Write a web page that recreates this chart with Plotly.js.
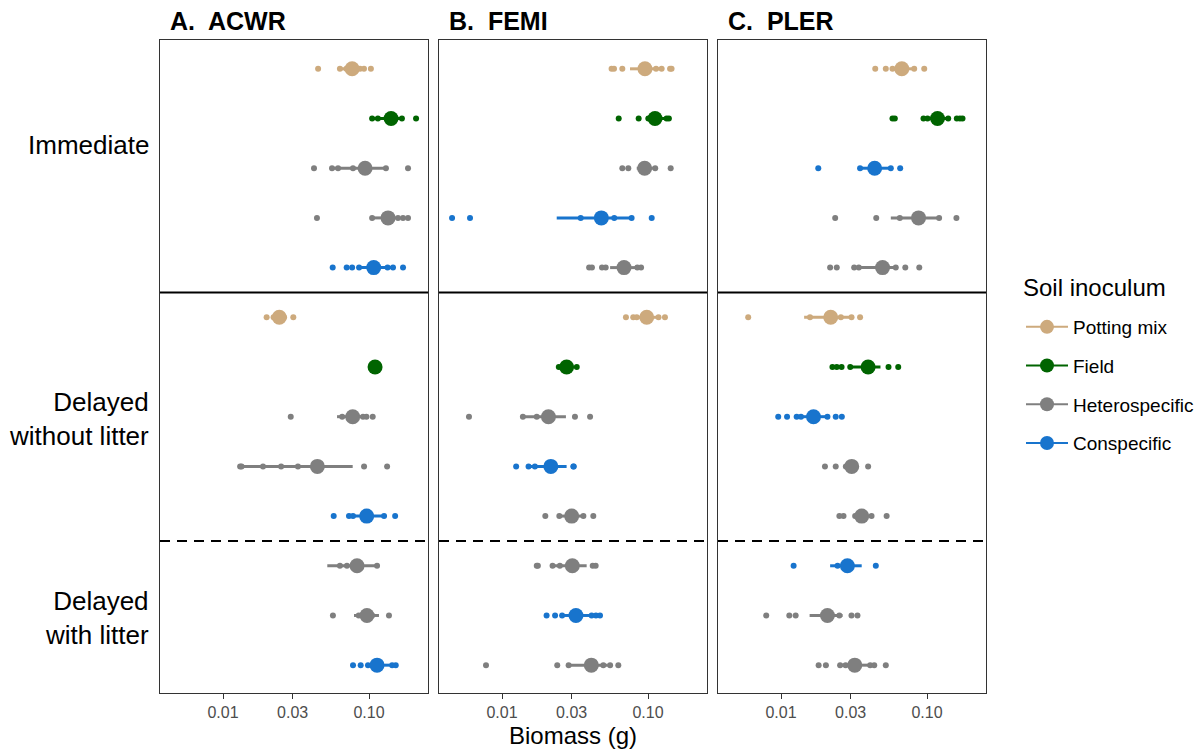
<!DOCTYPE html>
<html>
<head>
<meta charset="utf-8">
<script src="https://cdn.plot.ly/plotly-3.0.1.min.js"></script>
<style>html,body{margin:0;padding:0;background:#fff;}</style>
</head>
<body>
<div id="chart" style="width:1202px;height:755px;"></div>
<script>
// ---------- data ----------
const panels = ['A.\u00A0 ACWR', 'B.\u00A0 FEMI', 'C.\u00A0 PLER'];
const rows = [1,2,3,4,5,6,7,8,9,10,11,12,13];
const groupLabels = ['Immediate', 'Delayed<br>without litter', 'Delayed<br>with litter'];
const legendTitle = 'Soil inoculum';
const inocula = ['Potting mix', 'Field', 'Heterospecific', 'Conspecific'];
const inocColors = ['#CDAA7D', '#006400', '#7F7F7F', '#1874CD'];
const tickVals = [0.01, 0.03, 0.1];
const tickLabels = ['0.01', '0.03', '0.10'];

const ACWR_soil = ['Potting mix','Field','Heterospecific','Heterospecific','Conspecific','Potting mix','Field','Heterospecific','Heterospecific','Conspecific','Heterospecific','Heterospecific','Conspecific'];
const FEMI_soil = ['Potting mix','Field','Heterospecific','Conspecific','Heterospecific','Potting mix','Field','Heterospecific','Conspecific','Heterospecific','Heterospecific','Conspecific','Heterospecific'];
const PLER_soil = ['Potting mix','Field','Conspecific','Heterospecific','Heterospecific','Potting mix','Field','Conspecific','Heterospecific','Heterospecific','Conspecific','Heterospecific','Heterospecific'];

const ACWR_mean = [0.0766, 0.1416, 0.094, 0.135, 0.1077, 0.0243, 0.110, 0.0773, 0.0443, 0.0964, 0.0828, 0.0968, 0.1135];
const ACWR_lo   = [0.063, 0.108, 0.0558, 0.105, 0.085, 0.0215, 0.104, 0.0604, 0.0131, 0.072, 0.0518, 0.0789, 0.098];
const ACWR_hi   = [0.092, 0.165, 0.1306, 0.16, 0.145, 0.027, 0.116, 0.0968, 0.0773, 0.127, 0.116, 0.117, 0.139];
const ACWR_pts = [
  [0.0448, 0.0632, 0.070, 0.0868, 0.0924, 0.103],
  [0.105, 0.115, 0.135, 0.15, 0.168, 0.210],
  [0.042, 0.0558, 0.0614, 0.0777, 0.1306, 0.185],
  [0.044, 0.105, 0.128, 0.158, 0.171, 0.185],
  [0.0564, 0.0703, 0.0766, 0.0855, 0.134, 0.146, 0.171],
  [0.0199, 0.0222, 0.0262, 0.0303],
  [0.106, 0.110, 0.114],
  [0.0291, 0.0655, 0.091, 0.096, 0.106],
  [0.0131, 0.0134, 0.0188, 0.0250, 0.0326, 0.0925, 0.133],
  [0.0573, 0.0729, 0.0777, 0.1268, 0.151],
  [0.0632, 0.0706, 0.1135],
  [0.0566, 0.085, 0.105, 0.137],
  [0.0777, 0.0877, 0.0984, 0.144, 0.1524]
];

const FEMI_mean = [0.0953, 0.1117, 0.0948, 0.0479, 0.0685, 0.098, 0.0277, 0.0208, 0.0216, 0.030, 0.0303, 0.0321, 0.0409];
const FEMI_lo   = [0.0753, 0.098, 0.0837, 0.0237, 0.055, 0.0837, 0.025, 0.0139, 0.0152, 0.0244, 0.0222, 0.0258, 0.0286];
const FEMI_hi   = [0.12, 0.137, 0.108, 0.0772, 0.0845, 0.114, 0.031, 0.0274, 0.0277, 0.0361, 0.038, 0.0411, 0.053];
const FEMI_pts = [
  [0.0563, 0.0585, 0.0667, 0.1135, 0.124, 0.1416, 0.145],
  [0.0630, 0.0863, 0.1005, 0.134, 0.139],
  [0.0667, 0.0733, 0.112, 0.143],
  [0.00455, 0.00604, 0.0346, 0.0587, 0.0772, 0.106],
  [0.0395, 0.0413, 0.0484, 0.0513, 0.0845, 0.0896],
  [0.0706, 0.0792, 0.0837, 0.118, 0.1306],
  [0.0245, 0.0265, 0.029, 0.0325],
  [0.00594, 0.0139, 0.0173, 0.0316, 0.0401],
  [0.0125, 0.0152, 0.0168, 0.0308, 0.031],
  [0.0198, 0.0247, 0.0361, 0.0422],
  [0.0173, 0.0176, 0.0222, 0.0249, 0.0418, 0.0438],
  [0.0202, 0.0231, 0.0258, 0.0411, 0.044, 0.0469],
  [0.00777, 0.0239, 0.0286, 0.0494, 0.055, 0.0626]
];

const PLER_mean = [0.0672, 0.118, 0.0438, 0.0875, 0.0496, 0.0219, 0.0395, 0.0167, 0.0305, 0.0357, 0.0285, 0.0208, 0.032];
const PLER_lo   = [0.058, 0.0946, 0.0348, 0.0565, 0.0317, 0.0144, 0.0298, 0.0137, 0.0278, 0.0322, 0.0217, 0.0157, 0.0254];
const PLER_hi   = [0.0817, 0.1397, 0.0565, 0.121, 0.0611, 0.030, 0.048, 0.0208, 0.0334, 0.0417, 0.0357, 0.0264, 0.0408];
const PLER_pts = [
  [0.0442, 0.0522, 0.058, 0.0817, 0.0957],
  [0.058, 0.0602, 0.0946, 0.1008, 0.1397, 0.160, 0.168, 0.175],
  [0.0180, 0.0348, 0.0565, 0.0655],
  [0.0235, 0.0449, 0.0651, 0.121, 0.159],
  [0.0217, 0.0241, 0.0317, 0.0341, 0.0611, 0.071, 0.0885],
  [0.00596, 0.0158, 0.0257, 0.0304, 0.0348],
  [0.0225, 0.0241, 0.0260, 0.0298, 0.0545, 0.0635],
  [0.00957, 0.011, 0.0128, 0.0137, 0.0208, 0.0237, 0.0261],
  [0.020, 0.0237, 0.0278, 0.0395],
  [0.0251, 0.0268, 0.0322, 0.0417, 0.0529],
  [0.0122, 0.0244, 0.0446],
  [0.00792, 0.0114, 0.0126, 0.0251, 0.0304, 0.0334],
  [0.0181, 0.0203, 0.0254, 0.0277, 0.0408, 0.0435, 0.0522]
];

// ---------- build ----------
const panelData = [
  {soil: ACWR_soil, mean: ACWR_mean, lo: ACWR_lo, hi: ACWR_hi, pts: ACWR_pts},
  {soil: FEMI_soil, mean: FEMI_mean, lo: FEMI_lo, hi: FEMI_hi, pts: FEMI_pts},
  {soil: PLER_soil, mean: PLER_mean, lo: PLER_lo, hi: PLER_hi, pts: PLER_pts}
];
const xa = ['x', 'x2', 'x3'];
const ya = ['y', 'y2', 'y3'];
const traces = [];
const FONT = 'Liberation Sans, Arial, Helvetica, sans-serif';

panelData.forEach((pd, p) => {
  inocula.forEach((inoc, k) => {
    const cx = [], cy = [], px = [], py = [], mx = [], my = [];
    rows.forEach((r, i) => {
      if (pd.soil[i] !== inoc) return;
      cx.push(pd.lo[i], pd.hi[i], null); cy.push(r, r, null);
      pd.pts[i].forEach(v => { px.push(v); py.push(r); });
      mx.push(pd.mean[i]); my.push(r);
    });
    if (!mx.length) return;
    traces.push({type:'scatter', mode:'lines', x:cx, y:cy, xaxis:xa[p], yaxis:ya[p],
      line:{color:inocColors[k], width:3}, showlegend:false, hoverinfo:'skip'});
    traces.push({type:'scatter', mode:'markers', x:px, y:py, xaxis:xa[p], yaxis:ya[p],
      marker:{color:inocColors[k], size:6}, showlegend:false});
    traces.push({type:'scatter', mode:'markers', x:mx, y:my, xaxis:xa[p], yaxis:ya[p],
      marker:{color:inocColors[k], size:15}, showlegend:false});
  });
});
// legend entries
inocula.forEach((inoc, k) => {
  traces.push({type:'scatter', mode:'lines+markers', x:[null], y:[null], xaxis:'x', yaxis:'y',
    name: inoc, legendgroup: inoc, line:{color:inocColors[k], width:2},
    marker:{color:inocColors[k], size:14}, showlegend:true});
});

const W = 826, H = 653;
const doms = [[0, 268/W], [279/W, 547/W], [558/W, 1]];
const xRange = [-2.4315, -0.596];
const yRange = [13.56, 0.42];

const layout = {
  width: 1202, height: 755,
  margin: {l:160, r:216, t:40, b:62, autoexpand:false},
  paper_bgcolor: '#fff', plot_bgcolor: '#fff',
  font: {family: FONT, color:'#000'},
  showlegend: true,
  legend: {x: (1021-160)/W, y: (693-308)/H, xanchor:'left', yanchor:'top',
    font: {size:19, color:'#000'}, tracegroupgap: 11, itemwidth: 42, bgcolor:'rgba(0,0,0,0)'},
  shapes: [],
  annotations: [{text: legendTitle, xref:'paper', yref:'paper', x:(1021-160)/W, y:(693-287)/H,
    xanchor:'left', yanchor:'middle', showarrow:false, font:{size:24, color:'#000', family: FONT}}]
};
for (let p = 0; p < 3; p++) {
  const sx = p === 0 ? '' : String(p+1);
  layout['xaxis'+sx] = {domain: doms[p], type:'log', range: xRange, anchor: ya[p],
    tickvals: tickVals, ticktext: tickLabels, ticks:'outside', ticklen:5, tickwidth:1, tickcolor:'#333',
    tickfont:{size:16, color:'#4D4D4D', family: FONT}, showgrid:false, zeroline:false,
    showline:true, mirror:true, linecolor:'#333', linewidth:1};
  layout['yaxis'+sx] = {domain:[0,1], range: yRange, anchor: xa[p], showticklabels:false,
    ticks:'', showgrid:false, zeroline:false, showline:true, mirror:true, linecolor:'#333', linewidth:1};
  if (p > 0) layout['yaxis'+sx].matches = 'y';
  layout.shapes.push({type:'line', xref: xa[p]+' domain', yref: ya[p], x0:0, x1:1, y0:5.5, y1:5.5,
    line:{color:'#000', width:2}});
  layout.shapes.push({type:'line', xref: xa[p]+' domain', yref: ya[p], x0:0, x1:1, y0:10.5, y1:10.5,
    line:{color:'#000', width:2, dash:'10px,7px'}});
  layout.annotations.push({text:'<b>'+panels[p]+'</b>', xref:'paper', yref:'paper',
    x: doms[p][0] + 8/W, y: 1, xanchor:'left', yanchor:'bottom', yshift: 3, showarrow:false,
    font:{size:25, color:'#000', family: FONT}});
}
layout.xaxis2.title = {text:'Biomass (g)', font:{size:24, color:'#000', family: FONT}, standoff: 6};
const labelRows = [2.53, 8.05, 12.05];
groupLabels.forEach((g, i) => {
  layout.annotations.push({text: g, xref:'paper', yref:'y', x: -9/W, y: labelRows[i],
    xanchor:'right', yanchor:'middle', align:'right', showarrow:false,
    font:{size:26, color:'#000', family: FONT}});
});

Plotly.newPlot('chart', traces, layout, {displayModeBar:false, staticPlot:true});
</script>
</body>
</html>
